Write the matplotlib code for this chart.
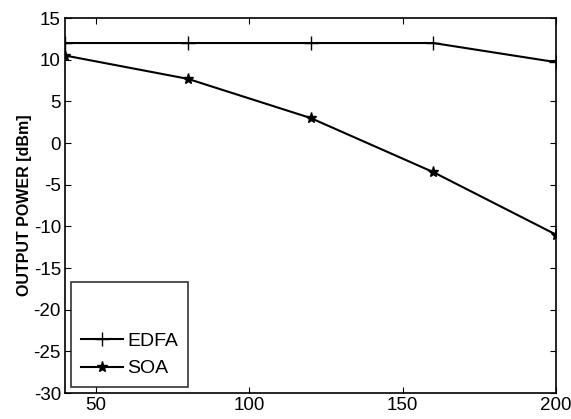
import numpy as np
import matplotlib.pyplot as plt

plt.rcParams['font.family'] = ['Liberation Sans', 'DejaVu Sans']
plt.rcParams['axes.unicode_minus'] = False

dist = [40, 80, 120, 160, 200]
edfa = [12.0, 12.0, 12.0, 12.0, 9.7]
soa = [10.5, 7.7, 3.0, -3.5, -11.0]

fig = plt.figure(figsize=(5.71, 4.19), dpi=100)
ax = fig.add_axes([0.114, 0.062, 0.86, 0.895])

ax.plot(dist, edfa, 'k-', marker='+', markersize=10, linewidth=1.5, label='EDFA')
ax.plot(dist, soa, 'k-', marker='*', markersize=8, linewidth=1.5, label='SOA')

ax.set_xlim(40, 200)
ax.set_ylim(-30, 15)
ax.set_xticks([50, 100, 150, 200])
ax.set_yticks(np.arange(-30, 16, 5))
ax.tick_params(direction='in', top=True, right=True, labelsize=13.5, length=4, pad=3)
for s in ax.spines.values():
    s.set_linewidth(1.2)
ax.set_ylabel('OUTPUT POWER [dBm]', fontsize=11.5, fontweight='bold', labelpad=1)

leg = ax.legend(loc='lower left', fontsize=14, frameon=True, fancybox=False,
                edgecolor='black', handlelength=2.2, handletextpad=0.2,
                borderaxespad=0.3, title=' ', title_fontsize=24, labelspacing=0.5,
                borderpad=0.5)
leg.get_frame().set_linewidth(1.2)

fig.savefig('out.png', dpi=100)
